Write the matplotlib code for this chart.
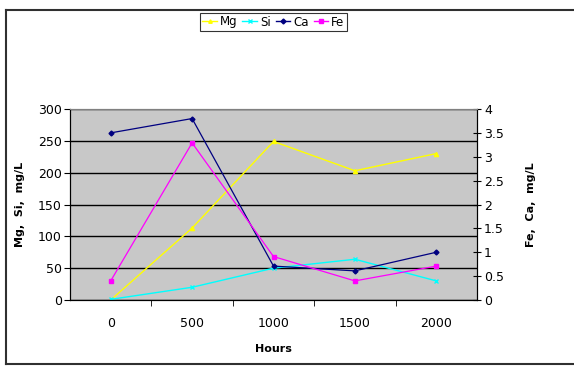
import matplotlib
matplotlib.use("Agg")
import matplotlib.pyplot as plt
from matplotlib.lines import Line2D
from matplotlib.ticker import MultipleLocator, FixedLocator

# Data
hours = ["0", "500", "1000", "1500", "2000"]
mg = [0, 113, 249, 203, 230]        # left axis
si = [1, 20, 50, 64, 30]            # left axis
ca = [3.50, 3.80, 0.71, 0.61, 1.00]  # right axis
fe = [0.40, 3.29, 0.91, 0.40, 0.71]  # right axis

x = list(range(len(hours)))

fig = plt.figure(figsize=(5.74, 3.67), dpi=100)
ax = fig.add_axes([70 / 574, 1 - 300 / 367, 407 / 574, 191 / 367])
ax2 = ax.twinx()

ax.set_facecolor("#C8C8C8")
ax.set_zorder(0)
ax2.set_zorder(1)
ax2.patch.set_visible(False)

ax.plot(x, mg, color="#FFFF00", marker="^", ms=3, lw=1, label="Mg")
ax.plot(x, si, color="#00FFFF", marker="x", ms=3, lw=1, mew=1, label="Si")
ax2.plot(x, ca, color="#000080", marker="D", ms=2.5, lw=0.9, label="Ca")
ax2.plot(x, fe, color="#FF00FF", marker="s", ms=3, lw=0.9, label="Fe")

ax.set_xlim(-0.5, len(hours) - 0.5)
ax.set_ylim(0, 300)
ax2.set_ylim(0, 4)

ax.yaxis.set_major_locator(MultipleLocator(50))
ax2.yaxis.set_major_locator(MultipleLocator(0.5))
ax2.set_yticklabels([f"{v:g}" for v in ax2.get_yticks()])

ax.set_xticks(x)
ax.set_xticklabels(hours)
ax.xaxis.set_minor_locator(FixedLocator([i + 0.5 for i in range(len(hours) - 1)]))
ax.tick_params(axis="x", which="major", length=0, pad=12, labelsize=9, colors="black")
ax.tick_params(axis="x", which="minor", length=4, direction="out")
ax.tick_params(axis="y", length=4, direction="out", labelsize=9, pad=2)
ax2.tick_params(axis="y", length=6, direction="inout", labelsize=9, pad=2)

ax.grid(axis="y", color="black", lw=1)
ax.set_axisbelow(True)

for a in (ax, ax2):
    a.spines["top"].set_color("#808080")
for s in ("left", "right", "bottom"):
    ax2.spines[s].set_color("black")

ax.set_ylabel("Mg,  Si,  mg/L", fontsize=8, fontweight="bold", labelpad=9)
ax2.set_ylabel("Fe,  Ca,  mg/L", fontsize=8, fontweight="bold", labelpad=16)
ax.set_xlabel("Hours", fontsize=8, fontweight="bold", labelpad=10)

handles = [Line2D([], [], color=c, marker=m, ms=2.5, lw=1) for c, m in
           [("#FFFF00", "^"), ("#00FFFF", "x"), ("#000080", "D"), ("#FF00FF", "s")]]
leg = fig.legend(handles, ["Mg", "Si", "Ca", "Fe"], ncol=4, loc="center",
                 bbox_to_anchor=(273.5 / 574, 1 - 22 / 367), fontsize=8.5,
                 frameon=True, fancybox=False, handlelength=1.2, handletextpad=0.3,
                 columnspacing=0.4, borderpad=0.2, borderaxespad=0, edgecolor="black")
leg.get_frame().set_linewidth(0.8)

# outer chart border (top, left, bottom)
fig.add_artist(Line2D([6 / 574, 1], [1 - 10 / 367] * 2, color="#303030", lw=1.5))
fig.add_artist(Line2D([6 / 574] * 2, [1 - 10 / 367, 1 - 364 / 367], color="#303030", lw=1.5))
fig.add_artist(Line2D([6 / 574, 1], [1 - 364 / 367] * 2, color="#303030", lw=1.5))

fig.savefig("out.png", dpi=100)
